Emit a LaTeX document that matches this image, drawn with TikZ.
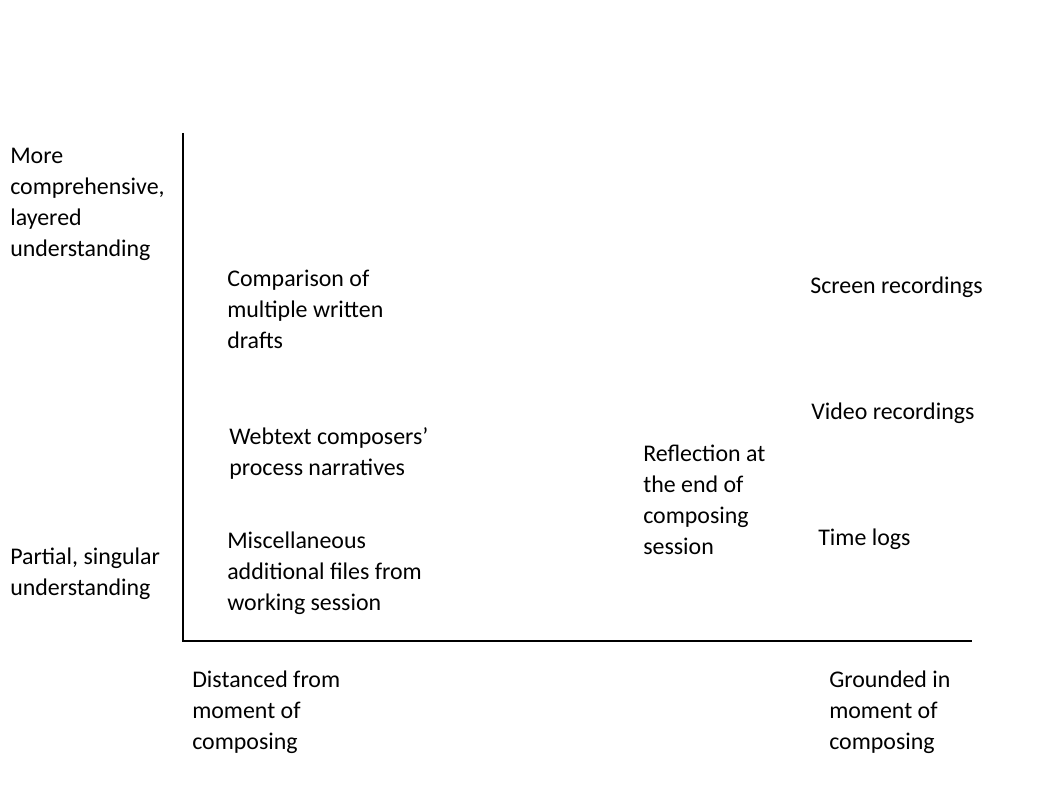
\documentclass[tikz,border=0pt]{standalone}
\usepackage{fontspec}
\setmainfont{Carlito}
\usetikzlibrary{positioning}
\tikzset{
	lbl/.style={anchor=north west, inner sep=0pt, align=left, font=\fontsize{17}{22}\selectfont},
	axis/.style={line width=1.6pt}
}
\begin{document}
\begin{tikzpicture}[x=0.025cm, y=-0.025cm]
	\useasboundingbox (0,0) rectangle (1040,786);
	
	% --- Axes ---
	\coordinate (top) at (183,133);
	\coordinate (origin) at (183,641);
	\coordinate (right) at (972,641);
	\draw[axis] (top) -- (origin) -- (right);
	
	% --- Axis labels ---
	\node[lbl] (more) at (10,148) {More\\comprehensive,\\layered\\understanding};
	\node[lbl] (partial) at (10,548) {Partial, singular\\understanding};
	\node[lbl] (distanced) at (192,671) {Distanced from\\moment of\\composing};
	\node[lbl] (grounded) at (829,671) {Grounded in\\moment of\\composing};
	
	% --- Data sources ---
	\node[lbl] (drafts) at (227,270) {Comparison of\\multiple written\\drafts};
	\node[lbl] (narratives) at (229,427) {Webtext composers'\\process narratives};
	\node[lbl] (misc) at (227,532) {Miscellaneous\\additional files from\\working session};
	\node[lbl] (reflection) at (643,445) {Reflection at\\the end of\\composing\\session};
	\node[lbl] (screen) at (810,277) {Screen recordings};
	\node[lbl] (video) at (811,403) {Video recordings};
	\node[lbl] (time) at (818,529) {Time logs};
\end{tikzpicture}
\end{document}
